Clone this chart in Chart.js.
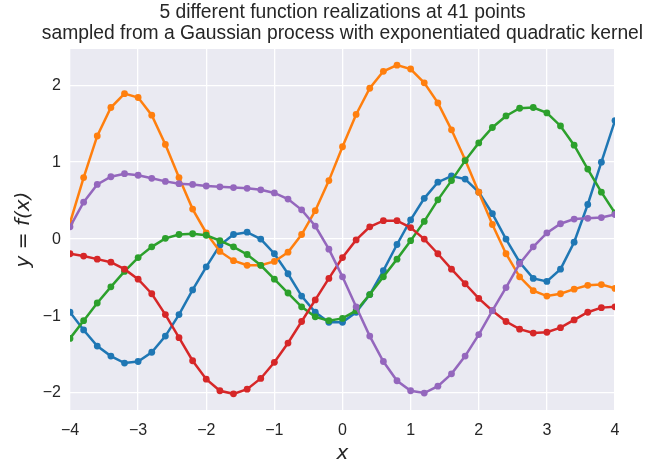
<!DOCTYPE html>
<html>
<head>
<meta charset="utf-8">
<script src="https://cdn.jsdelivr.net/npm/chart.js@4"></script>
<style>
  body { margin: 0; background: #fff; }
  canvas { display: block; }
</style>
</head>
<body>
<canvas id="chart" width="649" height="466"></canvas>
<script>
// 41 sample points on [-4, 4]
const xs = [-4.0, -3.8, -3.6, -3.4, -3.2, -3.0, -2.8, -2.6, -2.4, -2.2, -2.0,
  -1.8, -1.6, -1.4, -1.2, -1.0, -0.8, -0.6, -0.4, -0.2, 0.0,
  0.2, 0.4, 0.6, 0.8, 1.0, 1.2, 1.4, 1.6, 1.8, 2.0,
  2.2, 2.4, 2.6, 2.8, 3.0, 3.2, 3.4, 3.6, 3.8, 4.0];

// the five sampled functions
const f1 = [-0.95, -1.18, -1.39, -1.52, -1.61, -1.59, -1.47, -1.26, -0.98, -0.66, -0.36,
  -0.08, 0.06, 0.09, 0.00, -0.19, -0.45, -0.74, -0.95, -1.08, -1.08,
  -0.95, -0.72, -0.41, -0.07, 0.25, 0.53, 0.74, 0.82, 0.78, 0.61,
  0.33, 0.00, -0.30, -0.51, -0.55, -0.39, -0.04, 0.45, 1.00, 1.54];
const f2 = [0.21, 0.80, 1.34, 1.71, 1.89, 1.84, 1.61, 1.23, 0.80, 0.39, 0.08,
  -0.16, -0.28, -0.34, -0.34, -0.29, -0.17, 0.06, 0.37, 0.76, 1.20,
  1.62, 1.96, 2.18, 2.26, 2.21, 2.03, 1.77, 1.42, 1.03, 0.61,
  0.19, -0.19, -0.49, -0.67, -0.74, -0.71, -0.65, -0.60, -0.59, -0.64];
const f3 = [-1.29, -1.06, -0.83, -0.62, -0.42, -0.24, -0.10, 0.01, 0.06, 0.07, 0.05,
  -0.02, -0.10, -0.20, -0.34, -0.52, -0.70, -0.88, -1.01, -1.06, -1.03,
  -0.93, -0.72, -0.49, -0.26, -0.02, 0.23, 0.51, 0.76, 1.02, 1.25,
  1.45, 1.60, 1.70, 1.71, 1.64, 1.47, 1.22, 0.91, 0.61, 0.34];
const f4 = [-0.19, -0.22, -0.26, -0.30, -0.39, -0.52, -0.71, -0.98, -1.28, -1.58, -1.82,
  -1.97, -2.01, -1.95, -1.81, -1.60, -1.35, -1.07, -0.79, -0.51, -0.24,
  -0.01, 0.16, 0.24, 0.24, 0.15, 0.00, -0.19, -0.39, -0.58, -0.77,
  -0.93, -1.07, -1.17, -1.22, -1.21, -1.15, -1.05, -0.95, -0.89, -0.88];
const f5 = [0.16, 0.48, 0.71, 0.81, 0.85, 0.83, 0.79, 0.75, 0.72, 0.71, 0.69,
  0.68, 0.67, 0.66, 0.64, 0.60, 0.52, 0.38, 0.17, -0.13, -0.49,
  -0.88, -1.26, -1.59, -1.84, -1.97, -2.00, -1.91, -1.75, -1.52, -1.24,
  -0.93, -0.63, -0.32, -0.10, 0.08, 0.20, 0.26, 0.27, 0.28, 0.32];

const xTicks = [-4, -3, -2, -1, 0, 1, 2, 3, 4];
const yTicks = [-2, -1, 0, 1, 2];

const titleLines = ['5 different function realizations at 41 points',
  'sampled from a Gaussian process with exponentiated quadratic kernel'];

const series = [f1, f2, f3, f4, f5];
const colors = ['#1f77b4', '#ff7f0e', '#2ca02c', '#d62728', '#9467bd'];

const minus = v => String(v).replace('-', '\u2212');

// grey plot background like seaborn darkgrid
const plotBackground = {
  id: 'plotBackground',
  beforeDraw(chart) {
    const { ctx, chartArea: a } = chart;
    ctx.save();
    ctx.fillStyle = '#eaeaf2';
    ctx.fillRect(a.left, a.top, a.right - a.left, a.bottom - a.top);
    ctx.restore();
  }
};

// title centred over the axes (may run wider than the plot)
const axesTitle = {
  id: 'axesTitle',
  afterDraw(chart) {
    const { ctx, chartArea: a } = chart;
    const cx = (a.left + a.right) / 2;
    ctx.save();
    ctx.fillStyle = '#262626';
    ctx.font = '19.3px "Liberation Sans"';
    ctx.textAlign = 'center';
    ctx.textBaseline = 'middle';
    titleLines.forEach((line, i) => ctx.fillText(line, cx, 13 + i * 21));
    ctx.restore();
  }
};

const ctx = document.querySelector('#chart').getContext('2d');

new Chart(ctx, {
  type: 'line',
  data: {
    datasets: series.map((ys, i) => ({
      data: ys.map((y, j) => ({ x: xs[j], y: y })),
      borderColor: colors[i],
      backgroundColor: colors[i],
      borderWidth: 2.5,
      pointRadius: 3.4,
      pointHoverRadius: 3.4,
      pointBorderWidth: 0,
      tension: 0,
      clip: 0,
      order: series.length - i
    }))
  },
  options: {
    responsive: false,
    animation: false,
    layout: { padding: { left: 0, right: 34, top: 49, bottom: 0 } },
    plugins: {
      legend: { display: false },
      tooltip: { enabled: false },
      title: { display: false }
    },
    scales: {
      x: {
        type: 'linear',
        min: -4,
        max: 4,
        afterFit: s => { s.height = 56; },
        afterBuildTicks: s => { s.ticks = xTicks.map(v => ({ value: v })); },
        grid: { color: '#ffffff', lineWidth: 1.3, drawTicks: false },
        border: { display: false },
        ticks: {
          color: '#262626',
          font: { family: 'Liberation Sans', size: 16 },
          padding: 11,
          callback: v => minus(v)
        },
        title: {
          display: true,
          text: 'x',
          color: '#262626',
          font: { family: 'DejaVu Sans', size: 20, style: 'italic' },
          padding: { top: 0, bottom: 0 }
        }
      },
      y: {
        type: 'linear',
        min: -2.22,
        max: 2.47,
        afterFit: s => { s.width = 70; },
        afterBuildTicks: s => { s.ticks = yTicks.map(v => ({ value: v })); },
        grid: { color: '#ffffff', lineWidth: 1.3, drawTicks: false },
        border: { display: false },
        ticks: {
          color: '#262626',
          font: { family: 'Liberation Sans', size: 16 },
          padding: 9,
          callback: v => minus(v)
        },
        title: {
          display: true,
          text: 'y = f(x)',
          color: '#262626',
          font: { family: 'DejaVu Sans', size: 20, style: 'italic' },
          padding: { top: 12, bottom: 0 }
        }
      }
    }
  },
  plugins: [plotBackground, axesTitle]
});
</script>
</body>
</html>
